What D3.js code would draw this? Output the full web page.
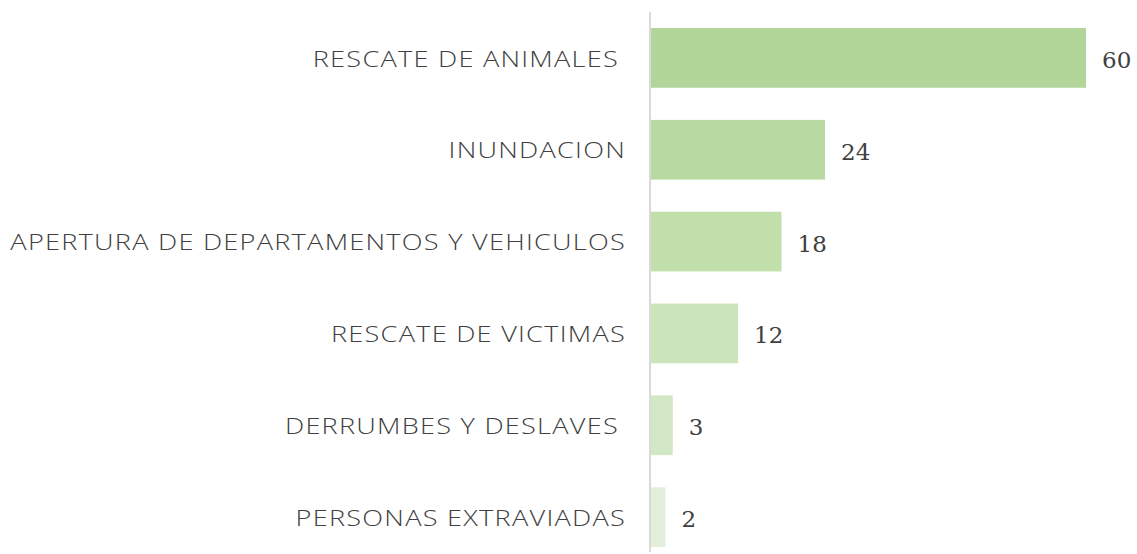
<!DOCTYPE html>
<html>
<head>
<meta charset="utf-8">
<script src="https://cdn.jsdelivr.net/npm/d3@7"></script>
<style>
  body { margin: 0; background: #ffffff; }
  .label { font-family: "Open Sans", sans-serif; font-weight: 300; font-size: 22px; fill: #404040; letter-spacing: 1px; }
  .value { font-family: "DejaVu Serif", serif; font-size: 23px; fill: #404040; }
</style>
</head>
<body>
<div id="chart"></div>
<script>
const width = 1137;
const height = 554;

const categories = [
  "RESCATE DE ANIMALES",
  "INUNDACION",
  "APERTURA DE DEPARTAMENTOS Y VEHICULOS",
  "RESCATE DE VICTIMAS",
  "DERRUMBES Y DESLAVES",
  "PERSONAS EXTRAVIADAS"
];
const values = [60, 24, 18, 12, 3, 2];
const colors = ["#b2d59a", "#b8d9a2", "#c1dfab", "#cbe4b9", "#d2e8c4", "#e3efdb"];

const data = categories.map((c, i) => ({ name: c, value: values[i], color: colors[i] }));

const svg = d3.select("#chart")
  .append("svg")
  .attr("width", width)
  .attr("height", height);

const xScale = d3.scaleLinear()
  .domain([0, 60])
  .range([651, 1086]);

const yScale = d3.scaleBand()
  .domain(categories)
  .range([12, 563])
  .paddingInner(0.35)
  .paddingOuter(0.175);

svg.selectAll("rect.bar")
  .data(data)
  .join("rect")
  .attr("class", "bar")
  .attr("x", xScale(0))
  .attr("y", d => yScale(d.name))
  .attr("width", d => xScale(d.value) - xScale(0))
  .attr("height", yScale.bandwidth())
  .attr("fill", d => d.color);

// axis line
svg.append("line")
  .attr("x1", 650).attr("x2", 650)
  .attr("y1", 12).attr("y2", 552)
  .attr("stroke", "#d9d9d9")
  .attr("stroke-width", 2);

// a couple of labels have a trailing space in the original
const labelEnd = d => (d.name === "RESCATE DE ANIMALES" || d.name === "DERRUMBES Y DESLAVES") ? 619 : 626;

const labels = svg.selectAll("text.label")
  .data(data)
  .join("text")
  .attr("class", "label")
  .attr("x", 0)
  .attr("y", 0)
  .attr("dy", "0.35em")
  .attr("text-anchor", "end")
  .text(d => d.name);

// stretch the text a bit so the longest label is as wide as the original (wide font)
const longest = labels.filter(d => d.name.startsWith("APERTURA")).node();
const k = 616 / longest.getComputedTextLength();
labels.attr("transform", d => `translate(${labelEnd(d)},${yScale(d.name) + yScale.bandwidth() / 2 + 1}) scale(${k},1)`);

svg.selectAll("text.value")
  .data(data)
  .join("text")
  .attr("class", "value")
  .attr("x", d => xScale(d.value) + 16)
  .attr("y", d => yScale(d.name) + yScale.bandwidth() / 2 + 2)
  .attr("dy", "0.35em")
  .text(d => d.value);
</script>
</body>
</html>
